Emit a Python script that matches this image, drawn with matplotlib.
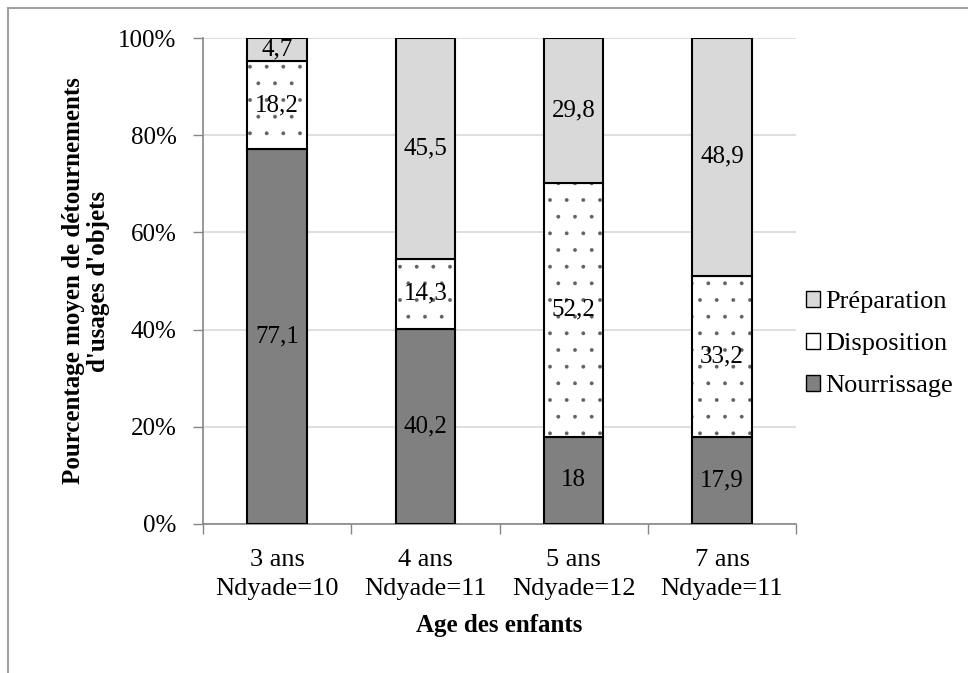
import matplotlib
matplotlib.use("Agg")
import matplotlib.pyplot as plt
import matplotlib.patches as mpatches
from matplotlib.lines import Line2D
import numpy as np

plt.rcParams['font.family'] = ['Liberation Serif', 'DejaVu Serif']
plt.rcParams['hatch.linewidth'] = 0.3

# data
ages = ["3 ans\nNdyade=10", "4 ans\nNdyade=11", "5 ans\nNdyade=12", "7 ans\nNdyade=11"]
nourrissage = [77.1, 40.2, 18, 17.9]
disposition = [18.2, 14.3, 52.2, 33.2]
preparation = [4.7, 45.5, 29.8, 48.9]


def fmt(v):
    return "{:g}".format(v).replace(".", ",")


fig = plt.figure(figsize=(9.68, 6.73), dpi=100)
ax = fig.add_axes([0.2097, 0.2214, 0.6128, 0.7221])

x = np.arange(len(ages))
w = 0.4
bottom2 = np.array(nourrissage)
bottom3 = bottom2 + np.array(disposition)

ax.bar(x, nourrissage, w, color="#808080", edgecolor="black", linewidth=1.5, zorder=3)
# dotted fill first (grey dots), then the black outline on top
ax.bar(x, disposition, w, bottom=bottom2, color="white", edgecolor="#606060",
       hatch=".", linewidth=0, zorder=3)
ax.bar(x, disposition, w, bottom=bottom2, fill=False, edgecolor="black",
       linewidth=1.5, zorder=3)
ax.bar(x, preparation, w, bottom=bottom3, color="#d9d9d9", edgecolor="black",
       linewidth=1.5, zorder=3)

# value labels in the middle of each segment
for i in x:
    ax.text(i, nourrissage[i] / 2, fmt(nourrissage[i]), ha="center", va="center",
            fontsize=18, zorder=4)
    ax.text(i, bottom2[i] + disposition[i] / 2, fmt(disposition[i]), ha="center",
            va="center", fontsize=18, zorder=4)
    ax.text(i, bottom3[i] + preparation[i] / 2, fmt(preparation[i]), ha="center",
            va="center", fontsize=18, zorder=4)

ax.set_xlim(-0.5, len(ages) - 0.5)
ax.set_ylim(0, 100)
ax.set_yticks(np.arange(0, 101, 20))
ax.set_yticklabels(["{}%".format(t) for t in range(0, 101, 20)])
ax.set_xticks(x)
ax.set_xticklabels(ages, linespacing=1.4)
ax.set_xticks(np.arange(-0.5, len(ages), 1), minor=True)
ax.tick_params(axis="x", which="major", length=0, pad=18, labelsize=19)
ax.tick_params(axis="x", which="minor", length=7, color="#868686", width=1)
ax.tick_params(axis="y", length=7, color="#868686", width=1, pad=12, labelsize=18)

ax.grid(axis="y", color="#d9d9d9", linewidth=1.2, zorder=0)
for s in ["top", "right"]:
    ax.spines[s].set_visible(False)
for s in ["left", "bottom"]:
    ax.spines[s].set_color("#868686")
    ax.spines[s].set_linewidth(1.2)

ax.set_xlabel("Age des enfants", fontsize=18, fontweight="bold", labelpad=10)
ax.set_ylabel("Pourcentage moyen de détournements\nd'usages d'objets", fontsize=18,
              fontweight="bold", labelpad=6, linespacing=1.1)

handles = [
    mpatches.Patch(facecolor="#d9d9d9", edgecolor="black", label="Préparation"),
    mpatches.Patch(facecolor="white", edgecolor="black", label="Disposition"),
    mpatches.Patch(facecolor="#808080", edgecolor="black", label="Nourrissage"),
]
fig.legend(handles=handles, loc="center left", bbox_to_anchor=(0.8185, 0.489),
           frameon=False, fontsize=19, handlelength=0.55, handleheight=0.55,
           handletextpad=0.2, labelspacing=0.75, borderpad=0)

# outer frame (top and left edges only visible)
fig.add_artist(Line2D([0.008, 1.0], [0.988, 0.988], color="#a0a0a0", linewidth=1.5))
fig.add_artist(Line2D([0.008, 0.008], [0.0, 0.988], color="#a0a0a0", linewidth=1.5))

fig.savefig("out.png", dpi=100)
